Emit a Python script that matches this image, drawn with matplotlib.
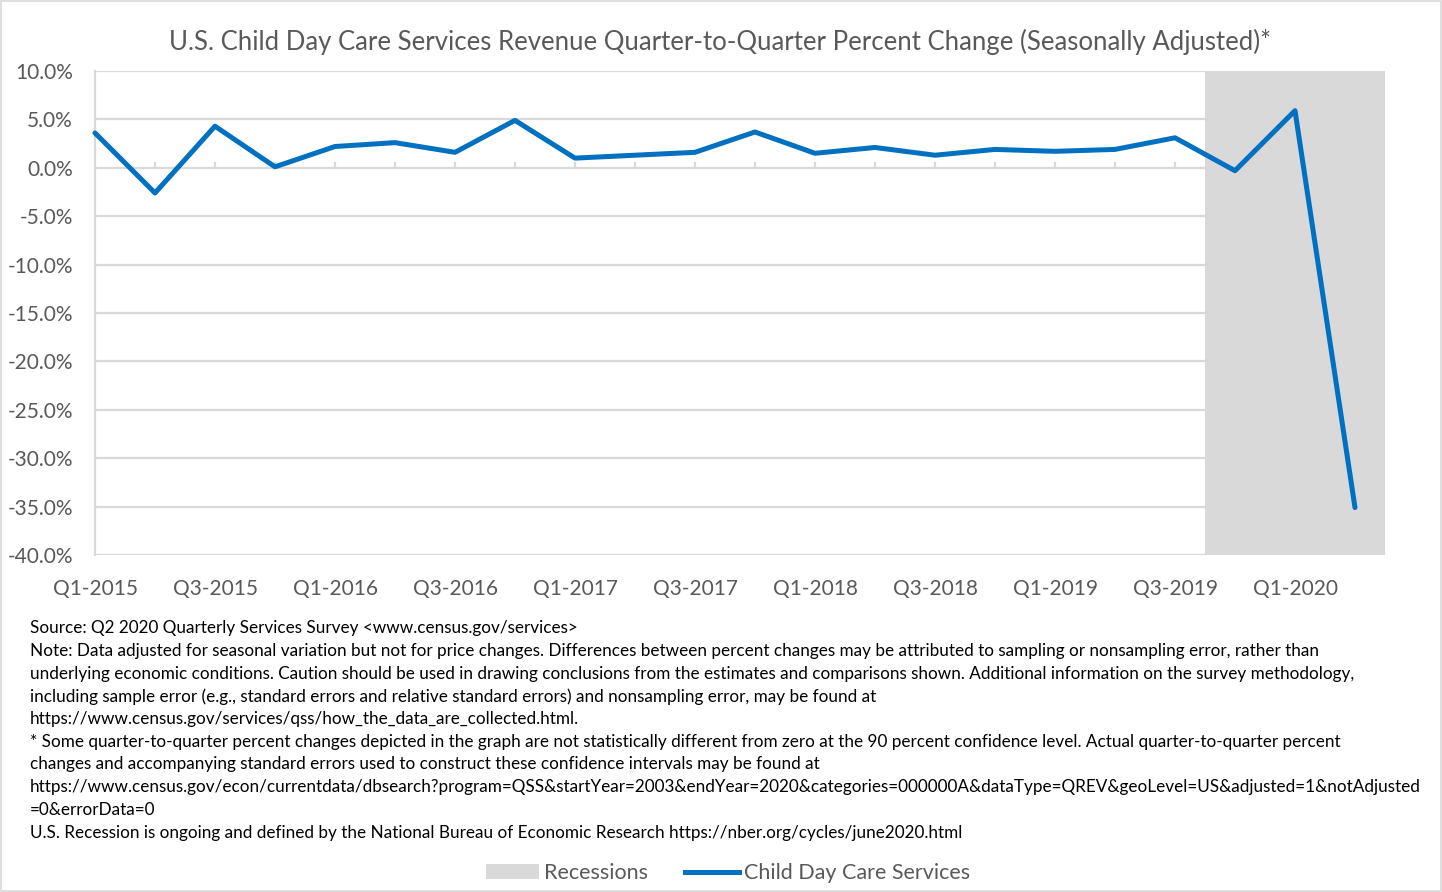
import matplotlib
matplotlib.use("Agg")
import matplotlib.pyplot as plt
from matplotlib.patches import Patch, Rectangle
from matplotlib.lines import Line2D

plt.rcParams['font.family'] = ['Lato', 'DejaVu Sans']

quarters = [f"Q{q}-{y}" for y in range(2015, 2021) for q in range(1, 5)][:22]
values = [3.6, -2.6, 4.3, 0.1, 2.2, 2.6, 1.6, 4.9, 1.0, 1.3, 1.6, 3.7,
          1.5, 2.1, 1.3, 1.9, 1.7, 1.9, 3.1, -0.3, 5.9, -35.1]
recession_quarters = ["Q4-2019", "Q1-2020", "Q2-2020"]
y_ticks = list(range(-40, 11, 5))

title = "U.S. Child Day Care Services Revenue Quarter-to-Quarter Percent Change (Seasonally Adjusted)*"
notes = [
    "Source: Q2 2020 Quarterly Services Survey <www.census.gov/services>",
    "Note: Data adjusted for seasonal variation but not for price changes. Differences between percent changes may be attributed to sampling or nonsampling error, rather than",
    "underlying economic conditions. Caution should be used in drawing conclusions from the estimates and comparisons shown. Additional information on the survey methodology,",
    "including sample error (e.g., standard errors and relative standard errors) and nonsampling error, may be found at",
    "https://www.census.gov/services/qss/how_the_data_are_collected.html.",
    "* Some quarter-to-quarter percent changes depicted in the graph are not statistically different from zero at the 90 percent confidence level. Actual quarter-to-quarter percent",
    "changes and accompanying standard errors used to construct these confidence intervals may be found at",
    "https://www.census.gov/econ/currentdata/dbsearch?program=QSS&startYear=2003&endYear=2020&categories=000000A&dataType=QREV&geoLevel=US&adjusted=1&notAdjusted",
    "=0&errorData=0",
    "U.S. Recession is ongoing and defined by the National Bureau of Economic Research https://nber.org/cycles/june2020.html",
]

BLUE = '#0070C0'
GRAY = '#D9D9D9'
TXT = '#595959'
W, H = 1442, 892

fig = plt.figure(figsize=(W / 100, H / 100), dpi=100)
ax = fig.add_axes([95 / W, 1 - 555 / H, (1385 - 95) / W, (555 - 71) / H])

idx = list(range(len(quarters)))
r0 = quarters.index(recession_quarters[0]) - 0.5
r1 = quarters.index(recession_quarters[-1]) + 0.5
ax.set_xlim(0, r1)
ax.set_ylim(-40, 10)

ax.axvspan(r0, r1, color=GRAY, lw=0, zorder=1)
ax.set_axisbelow(True)
ax.set_yticks(y_ticks)
ax.set_yticklabels([f"{v:.1f}%" for v in y_ticks])
ax.yaxis.grid(True, color=GRAY, lw=1.6)
ax.set_xticks(idx[::2])
ax.set_xticklabels(quarters[::2])
ax.tick_params(axis='both', length=0, labelsize=15, labelcolor=TXT)
ax.tick_params(axis='y', pad=16)
ax.tick_params(axis='x', pad=17)
for s in ['top', 'right', 'bottom']:
    ax.spines[s].set_visible(False)
ax.spines['left'].set_color(GRAY)
ax.spines['left'].set_linewidth(1.6)

# category tick marks on the zero line (white area only)
tick_x = [i for i in idx if 0 < i < r0]
ax.vlines(tick_x, 0, 0.65, color=GRAY, lw=1.6, zorder=1.5)

ax.plot(idx, values, color=BLUE, lw=3.6, zorder=3, clip_on=False,
        solid_joinstyle='round', solid_capstyle='round')

fig.text(720 / W, 1 - 42 / H, title, ha='center', va='center', fontsize=18.5, color=TXT)

y0, dy = 628, 22.75
for i, line in enumerate(notes):
    fig.text(30 / W, 1 - (y0 + i * dy) / H, line, ha='left', va='center',
             fontsize=12.3, color='black')

handles = [Patch(facecolor=GRAY, edgecolor='none'),
           Line2D([0], [0], color=BLUE, lw=3.6)]
fig.legend(handles, ["Recessions", "Child Day Care Services"], loc='center',
           bbox_to_anchor=(728 / W, 1 - 873 / H), ncol=2, frameon=False,
           fontsize=15.5, labelcolor=TXT, handlelength=2.47, handleheight=0.65,
           handletextpad=0.23, columnspacing=1.72)

fig.patches.append(Rectangle((0.001, 0.001), 0.998, 0.998, transform=fig.transFigure,
                             fill=False, ec=GRAY, lw=1.2))

fig.savefig("out.png", dpi=100)
